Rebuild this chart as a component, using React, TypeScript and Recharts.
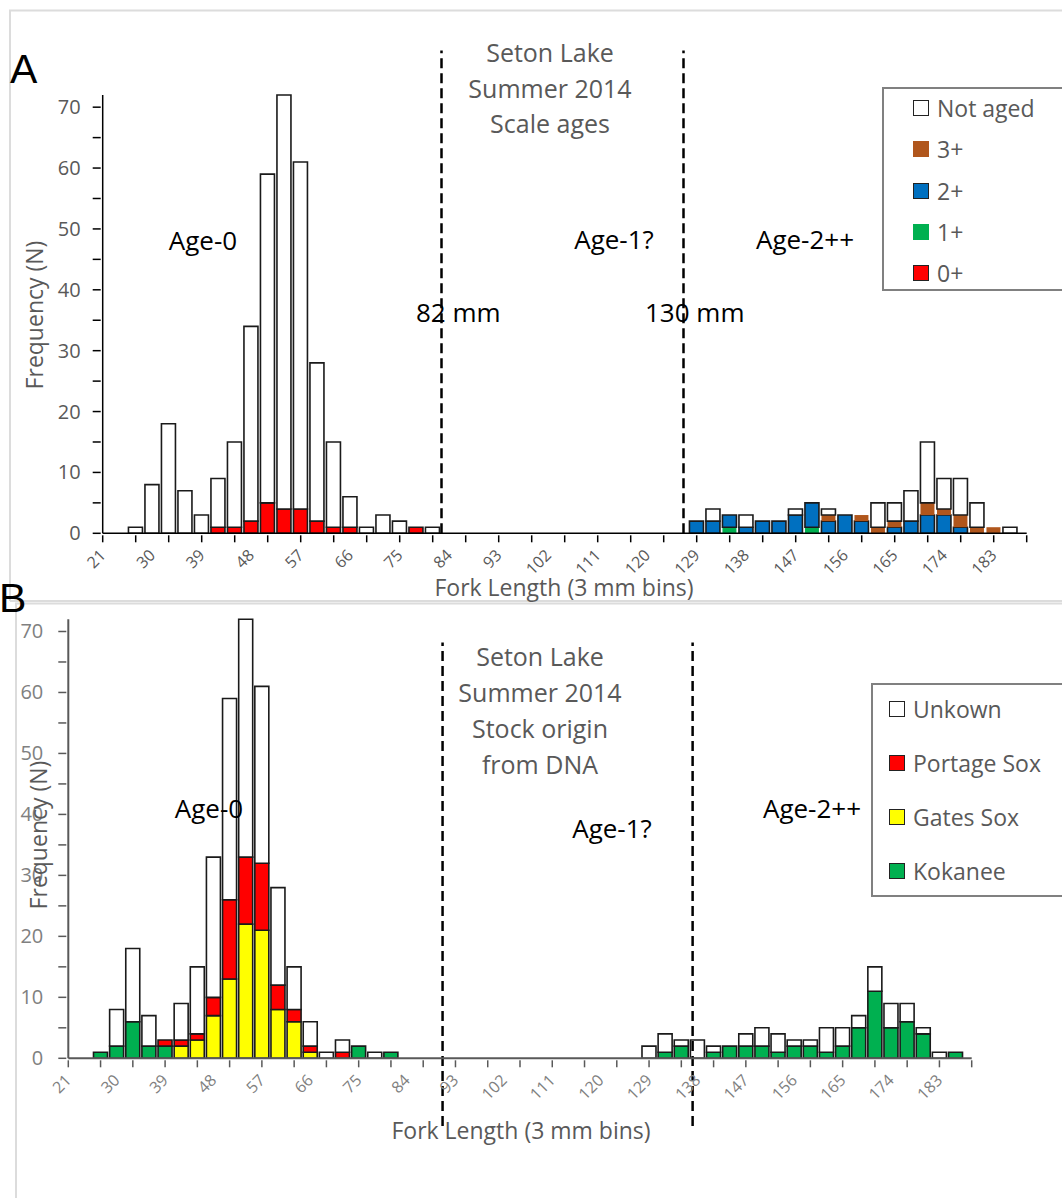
import React from "react";
import { BarChart, Bar, XAxis, YAxis, ReferenceLine, Legend } from "recharts";

// fork length bins (mm) that hold fish
const bins = [
  27, 30, 33, 36, 39, 42, 45, 48, 51, 54, 57, 60, 63, 66, 69, 72, 75, 78, 81,
  129, 132, 135, 138, 141, 144, 147, 150, 153, 156, 159, 162, 165, 168, 171, 174, 177, 180, 183, 186,
];

// panel A - scale ages
const age0 = [0, 0, 0, 0, 0, 1, 1, 2, 5, 4, 4, 2, 1, 1, 0, 0, 0, 1, 0, 0, 0, 0, 0, 0, 0, 0, 0, 0, 0, 0, 0, 0, 0, 0, 0, 0, 0, 0, 0];
const age1 = [0, 0, 0, 0, 0, 0, 0, 0, 0, 0, 0, 0, 0, 0, 0, 0, 0, 0, 0, 0, 0, 1, 0, 0, 0, 0, 1, 0, 0, 0, 0, 0, 0, 0, 0, 0, 0, 0, 0];
const age2 = [0, 0, 0, 0, 0, 0, 0, 0, 0, 0, 0, 0, 0, 0, 0, 0, 0, 0, 0, 2, 2, 2, 1, 2, 2, 3, 4, 2, 3, 2, 0, 1, 2, 3, 3, 1, 0, 0, 0];
const age3 = [0, 0, 0, 0, 0, 0, 0, 0, 0, 0, 0, 0, 0, 0, 0, 0, 0, 0, 0, 0, 0, 0, 0, 0, 0, 0, 0, 1, 0, 1, 1, 1, 0, 2, 1, 2, 1, 1, 0];
const notAged = [1, 8, 18, 7, 3, 8, 14, 32, 54, 68, 57, 26, 14, 5, 1, 3, 2, 0, 1, 0, 2, 0, 2, 0, 0, 1, 0, 1, 0, 0, 4, 3, 5, 10, 5, 6, 4, 0, 1];

// panel B - stock origin from DNA
const kokanee = [1, 2, 6, 2, 2, 0, 0, 0, 0, 0, 0, 0, 0, 0, 0, 0, 2, 0, 1, 0, 1, 2, 0, 1, 2, 2, 2, 1, 2, 2, 1, 2, 5, 11, 5, 6, 4, 0, 1];
const gatesSox = [0, 0, 0, 0, 0, 2, 3, 7, 13, 22, 21, 8, 6, 1, 0, 0, 0, 0, 0, 0, 0, 0, 0, 0, 0, 0, 0, 0, 0, 0, 0, 0, 0, 0, 0, 0, 0, 0, 0];
const portageSox = [0, 0, 0, 0, 1, 1, 1, 3, 13, 11, 11, 4, 2, 1, 0, 1, 0, 0, 0, 0, 0, 0, 0, 0, 0, 0, 0, 0, 0, 0, 0, 0, 0, 0, 0, 0, 0, 0, 0];
const unknown = [0, 6, 12, 5, 0, 6, 11, 23, 33, 39, 29, 16, 7, 4, 1, 2, 0, 1, 0, 2, 3, 1, 3, 1, 0, 2, 3, 3, 1, 1, 4, 3, 2, 4, 4, 3, 1, 1, 0];

// axis ticks
const xTickMarks = [21, 27, 33, 39, 45, 51, 57, 63, 69, 75, 81, 87, 93, 99, 105, 111, 117, 123, 129, 135, 141, 147, 153, 159, 165, 171, 177, 183, 189];
const xTickLabels = [21, 30, 39, 48, 57, 66, 75, 84, 93, 102, 111, 120, 129, 138, 147, 156, 165, 174, 183];
const xTicks = Array.from(new Set([...xTickMarks, ...xTickLabels])).sort((a, b) => a - b);
const yTicks = [0, 5, 10, 15, 20, 25, 30, 35, 40, 45, 50, 55, 60, 65, 70];
const yLabels = [0, 10, 20, 30, 40, 50, 60, 70];

// cut-off lines (positions on the fork length axis)
const cutsA = [82.6, 126.6];
const cutsB = [90.6, 137.1];

const FONT = '"Open Sans", sans-serif';

const seriesA = [
  { key: "age0", name: "0+", fill: "#ff0000", border: true },
  { key: "age1", name: "1+", fill: "#00b050", border: false },
  { key: "age2", name: "2+", fill: "#0070c0", border: true },
  { key: "age3", name: "3+", fill: "#b0561c", border: false },
  { key: "notAged", name: "Not aged", fill: "#ffffff", border: true },
];

const seriesB = [
  { key: "kokanee", name: "Kokanee", fill: "#00b050", border: true },
  { key: "gatesSox", name: "Gates Sox", fill: "#ffff00", border: true },
  { key: "portageSox", name: "Portage Sox", fill: "#ff0000", border: true },
  { key: "unknown", name: "Unkown", fill: "#ffffff", border: true },
];

const dataA = bins.map((bin, i) => ({
  bin,
  age0: age0[i],
  age1: age1[i],
  age2: age2[i],
  age3: age3[i],
  notAged: notAged[i],
}));

const dataB = bins.map((bin, i) => ({
  bin,
  kokanee: kokanee[i],
  gatesSox: gatesSox[i],
  portageSox: portageSox[i],
  unknown: unknown[i],
}));

const XTick = (props: any) => {
  const { x, y, payload, color, axisColor } = props;
  const v = payload.value;
  return (
    <g>
      {xTickMarks.includes(v) && <line x1={x} x2={x} y1={y} y2={y + 7} stroke={axisColor} strokeWidth={1.5} />}
      {xTickLabels.includes(v) && (
        <text
          x={x + 4}
          y={y + 21}
          transform={`rotate(-45 ${x + 4} ${y + 21})`}
          textAnchor="end"
          fontFamily={FONT}
          fontSize={16}
          fill={color}
        >
          {v}
        </text>
      )}
    </g>
  );
};

const YTick = (props: any) => {
  const { x, y, payload, color, axisColor, gap } = props;
  const v = payload.value;
  return (
    <g>
      <line x1={x - 8} x2={x} y1={y} y2={y} stroke={axisColor} strokeWidth={1.5} />
      {yLabels.includes(v) && (
        <text x={x - gap} y={y} dy="0.35em" textAnchor="end" fontFamily={FONT} fontSize={20} fill={color}>
          {v}
        </text>
      )}
    </g>
  );
};

const LegendBox = ({ items, swatchLeft, rowTop, rowGap }: any) => (
  <div
    style={{
      position: "relative",
      width: "100%",
      height: "100%",
      border: "2px solid #808080",
      boxSizing: "border-box",
      background: "#fff",
    }}
  >
    {items.map((it: any, i: number) => (
      <div
        key={it.key}
        style={{
          position: "absolute",
          left: swatchLeft,
          top: rowTop + i * rowGap - 16,
          height: 32,
          display: "flex",
          alignItems: "center",
          whiteSpace: "nowrap",
        }}
      >
        <span
          style={{
            display: "inline-block",
            width: 16,
            height: 16,
            boxSizing: "border-box",
            background: it.fill,
            border: it.border ? "1.5px solid #222" : "none",
          }}
        />
        <span style={{ marginLeft: 8, fontFamily: FONT, fontSize: 23, color: "#595959" }}>{it.name}</span>
      </div>
    ))}
  </div>
);

const App: React.FC = () => {
  return (
    <div
      style={{
        position: "absolute",
        left: 0,
        top: 0,
        width: 1062,
        height: 1198,
        overflow: "hidden",
        background: "#fff",
      }}
    >
      {/* panel A */}
      <div style={{ position: "absolute", left: 0, top: 0 }}>
        <BarChart width={1062} height={600} data={dataA} margin={{ top: 95, right: 35.3, bottom: 0, left: 0 }}>
          <XAxis
            type="number"
            dataKey="bin"
            domain={[21, 189]}
            ticks={xTicks}
            interval={0}
            height={66.7}
            tickSize={0}
            tickLine={false}
            axisLine={{ stroke: "#000", strokeWidth: 1.5 }}
            tick={(p: any) => <XTick {...p} color="#595959" axisColor="#000" />}
          />
          <YAxis
            type="number"
            domain={[0, 72]}
            ticks={yTicks}
            interval={0}
            width={102.7}
            tickSize={0}
            tickLine={false}
            axisLine={{ stroke: "#000", strokeWidth: 1.5 }}
            tick={(p: any) => <YTick {...p} color="#595959" axisColor="#000" gap={20} />}
          />
          {cutsA.map((c) => (
            <ReferenceLine
              key={c}
              segment={[{ x: c, y: 0 }, { x: c, y: 79.3 }]}
              stroke="#000"
              strokeWidth={2.5}
              strokeDasharray="10 5"
              ifOverflow="visible"
            />
          ))}
          {seriesA.map((s) => (
            <Bar
              key={s.key}
              dataKey={s.key}
              name={s.name}
              stackId="a"
              fill={s.fill}
              stroke={s.border ? "#1a1a1a" : "none"}
              strokeWidth={1.6}
              barSize={14}
              isAnimationActive={false}
            />
          ))}
          <Legend
            layout="vertical"
            align="center"
            verticalAlign="middle"
            wrapperStyle={{ left: 882, top: 87, width: 190, height: 204 }}
            content={() => <LegendBox items={[...seriesA].reverse()} swatchLeft={29} rowTop={19} rowGap={41.3} />}
          />
        </BarChart>
      </div>

      {/* panel B */}
      <div style={{ position: "absolute", left: 0, top: 600 }}>
        <BarChart width={1062} height={598} data={dataB} margin={{ top: 19.3, right: 90.3, bottom: 0, left: 0 }}>
          <XAxis
            type="number"
            dataKey="bin"
            domain={[21, 189]}
            ticks={xTicks}
            interval={0}
            height={139.7}
            tickSize={0}
            tickLine={false}
            axisLine={{ stroke: "#595959", strokeWidth: 2 }}
            tick={(p: any) => <XTick {...p} color="#808080" axisColor="#595959" />}
          />
          <YAxis
            type="number"
            domain={[0, 72]}
            ticks={yTicks}
            interval={0}
            width={68.3}
            tickSize={0}
            tickLine={false}
            axisLine={{ stroke: "#595959", strokeWidth: 2 }}
            tick={(p: any) => <YTick {...p} color="#808080" axisColor="#595959" gap={23} />}
          />
          {cutsB.map((c) => (
            <ReferenceLine
              key={c}
              segment={[{ x: c, y: -11.1 }, { x: c, y: 68.2 }]}
              stroke="#000"
              strokeWidth={2.5}
              strokeDasharray="10 5"
              ifOverflow="visible"
            />
          ))}
          {seriesB.map((s) => (
            <Bar
              key={s.key}
              dataKey={s.key}
              name={s.name}
              stackId="b"
              fill={s.fill}
              stroke="#1a1a1a"
              strokeWidth={1.6}
              barSize={14}
              isAnimationActive={false}
            />
          ))}
          <Legend
            layout="vertical"
            align="center"
            verticalAlign="middle"
            wrapperStyle={{ left: 871, top: 83, width: 200, height: 214 }}
            content={() => <LegendBox items={[...seriesB].reverse()} swatchLeft={16} rowTop={24} rowGap={54} />}
          />
        </BarChart>
      </div>

      {/* labels and panel frames */}
      <svg
        width={1062}
        height={1198}
        style={{ position: "absolute", left: 0, top: 0, pointerEvents: "none" }}
        fontFamily={FONT}
      >
        <path d="M10 601 V10.5 H1062 M10 601 H1062" fill="none" stroke="#dcdcdc" strokeWidth={2} />
        <path d="M16 1198 V603.5 H1062" fill="none" stroke="#dcdcdc" strokeWidth={2} />

        <text x={10} y={83} fontFamily='"Liberation Sans", Arial, sans-serif' fontSize={41}>A</text>
        <text x={-1} y={612} fontFamily='"Liberation Sans", Arial, sans-serif' fontSize={41}>B</text>

        <g fill="#595959" fontSize={25} textAnchor="middle">
          <text x={550} y={62}>Seton Lake</text>
          <text x={550} y={97.5}>Summer 2014</text>
          <text x={550} y={133}>Scale ages</text>
          <text x={540} y={666}>Seton Lake</text>
          <text x={540} y={702}>Summer 2014</text>
          <text x={540} y={738}>Stock origin</text>
          <text x={540} y={774}>from DNA</text>
        </g>

        <g fill="#000" fontSize={26}>
          <text x={203} y={250} textAnchor="middle">Age-0</text>
          <text x={614} y={249} textAnchor="middle">Age-1?</text>
          <text x={805} y={249} textAnchor="middle">Age-2++</text>
          <text x={416} y={322}>82 mm</text>
          <text x={645} y={322}>130 mm</text>
          <text x={209} y={818} textAnchor="middle">Age-0</text>
          <text x={612} y={838} textAnchor="middle">Age-1?</text>
          <text x={812} y={818} textAnchor="middle">Age-2++</text>
        </g>

        <g fill="#595959" fontSize={23} textAnchor="middle">
          <text x={564} y={596}>Fork Length (3 mm bins)</text>
          <text x={521} y={1139}>Fork Length (3 mm bins)</text>
          <text x={43} y={315} transform="rotate(-90 43 315)">Frequency (N)</text>
          <text x={47} y={835} transform="rotate(-90 47 835)">Frequency (N)</text>
        </g>
      </svg>
    </div>
  );
};

export default App;
